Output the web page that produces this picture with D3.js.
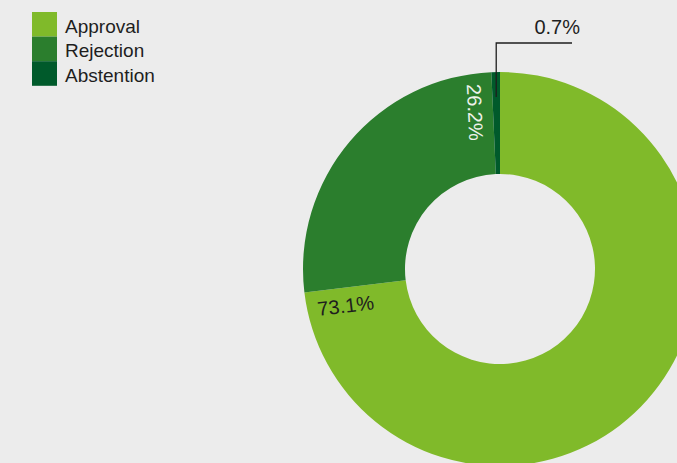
<!DOCTYPE html>
<html>
<head>
<meta charset="utf-8">
<script src="https://cdn.jsdelivr.net/npm/d3@7"></script>
<style>
  html, body { margin: 0; padding: 0; background: #ececec; }
  svg { display: block; }
  text { font-family: "Liberation Sans", Arial, Helvetica, sans-serif; }
</style>
</head>
<body>
<svg id="chart" width="677" height="463"></svg>
<script>
// Vote outcome shares (percent)
const categories = ["Approval", "Rejection", "Abstention"];
const shares = [73.1, 26.2, 0.7];
const labels = ["73.1%", "26.2%", "0.7%"];
const colors = ["#80ba2a", "#2b7e2d", "#005a2b"];

const W = 677, H = 463;
const cx = 500, cy = 269;
const outerR = 197, innerR = 95;

const svg = d3.select("#chart");
svg.append("rect").attr("width", W).attr("height", H).attr("fill", "#ececec");

const data = categories.map((c, i) => ({ name: c, value: shares[i], label: labels[i], color: colors[i] }));

const pie = d3.pie().value(d => d.value).sort(null);
const arcs = pie(data);
const arc = d3.arc().innerRadius(innerR).outerRadius(outerR);

const g = svg.append("g").attr("transform", `translate(${cx},${cy})`);

g.selectAll("path.slice")
  .data(arcs)
  .join("path")
  .attr("class", "slice")
  .attr("d", arc)
  .attr("fill", d => d.data.color);

// Labels for the two large slices: run radially inward, parallel to the slice's end edge
const deg = r => r * 180 / Math.PI;
const inlineLabels = arcs.slice(0, 2);
g.selectAll("text.inlabel")
  .data(inlineLabels)
  .join("text")
  .attr("class", "inlabel")
  .attr("transform", d => `rotate(${deg(d.endAngle) - 270}) translate(${-186},${25})`)
  .attr("font-size", 20)
  .attr("fill", (d, i) => i === 0 ? "#1e1e1e" : "#eef2ea")
  .attr("text-anchor", "start")
  .text(d => d.data.label);

// Small slice: leader line to an outside label
const small = arcs[2];
const mid = (small.startAngle + small.endAngle) / 2;
const lx = 172 * Math.sin(mid), ly = -172 * Math.cos(mid);
const elbowY = 43 - cy;
const lineEndX = 572 - cx;
g.append("polyline")
  .attr("points", `${lx},${ly} ${lx},${elbowY} ${lineEndX},${elbowY}`)
  .attr("fill", "none")
  .attr("stroke", "#1e1e1e")
  .attr("stroke-width", 1.3);
g.append("text")
  .attr("x", 580 - cx)
  .attr("y", 34 - cy)
  .attr("text-anchor", "end")
  .attr("font-size", 20)
  .attr("fill", "#1e1e1e")
  .text(small.data.label);

// Legend
const legend = svg.append("g").attr("transform", "translate(32,12)");
const row = legend.selectAll("g")
  .data(data)
  .join("g")
  .attr("transform", (d, i) => `translate(0,${i * 24.6})`);
row.append("rect")
  .attr("width", 25)
  .attr("height", 24.6)
  .attr("fill", d => d.color);
row.append("text")
  .attr("x", 33)
  .attr("y", 20.5)
  .attr("font-size", 19)
  .attr("fill", "#1e1e1e")
  .text(d => d.name);
</script>
</body>
</html>
